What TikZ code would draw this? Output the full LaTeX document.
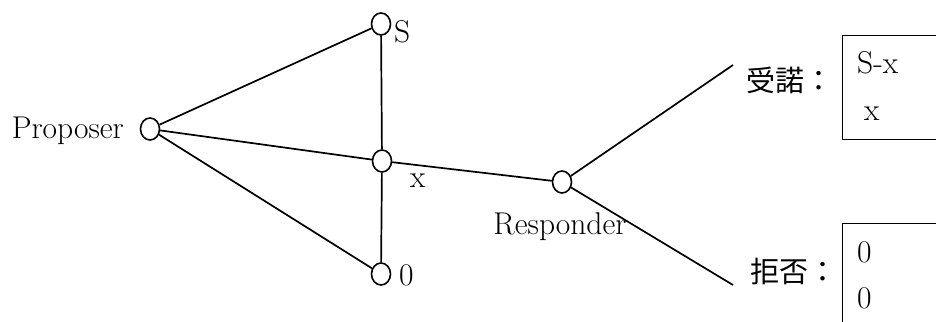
\documentclass[tikz,border=0pt]{standalone}
\usepackage{fontspec}
\newfontfamily\cjk{Noto Sans CJK JP}
\usetikzlibrary{shapes.geometric}
\begin{document}
\begin{tikzpicture}[x=1pt,y=-1pt,
  vtx/.style={ellipse,draw,line width=1.6pt,fill=white,minimum width=19pt,minimum height=22pt,inner sep=0pt},
  edge/.style={line width=1.7pt},
  lab/.style={font=\fontsize{31.5}{34}\selectfont,inner sep=0pt},
  jlab/.style={font=\cjk\fontsize{29}{32}\selectfont,inner sep=0pt},
  payoff/.style={draw,line width=1.1pt,anchor=north west,minimum width=130pt,inner sep=0pt}]
\clip (0,0) rectangle (936,321);
\fill[white] (0,0) rectangle (936,321);
% nodes
\node[vtx] (p) at (150,129) {};
\node[vtx] (s) at (381,24) {};
\node[vtx] (xn) at (382,161) {};
\node[vtx] (z) at (381,274) {};
\node[vtx] (r) at (562,182) {};
\coordinate (acc) at (733,65);
\coordinate (rej) at (733,285);
% edges
\draw[edge] (p) -- (s);
\draw[edge] (p) -- (xn);
\draw[edge] (p) -- (z);
\draw[edge] (s) -- (xn);
\draw[edge] (xn) -- (z);
\draw[edge] (xn) -- (r);
\draw[edge] (r) -- (acc);
% labels
\node[lab,anchor=base east] (pl) at (124,138) {Proposer};
\node[lab,anchor=base west] (sl) at (394,43) {S};
\node[lab,anchor=base west] (zl) at (399,285) {0};
\node[lab,anchor=base west] (xl) at (410,187) {x};
\node[lab,anchor=base] (rl) at (560,234) {Responder};
\draw[edge] (r) -- (rej);
\node[jlab,anchor=west] (accl) at (746,80) {受諾：};
\node[jlab,anchor=west] (rejl) at (750,271) {拒否：};
% payoff boxes
\node[payoff,minimum height=104pt] (accbox) at (842,35) {};
\node[payoff,minimum height=120pt] (rejbox) at (842,223) {};
\node[lab,anchor=base west] (a1) at (857,74) {S-x};
\node[lab,anchor=base west] (a2) at (864,120) {x};
\node[lab,anchor=base west] (b1) at (857,262) {0};
\node[lab,anchor=base west] (b2) at (857,308) {0};
\end{tikzpicture}
\end{document}
